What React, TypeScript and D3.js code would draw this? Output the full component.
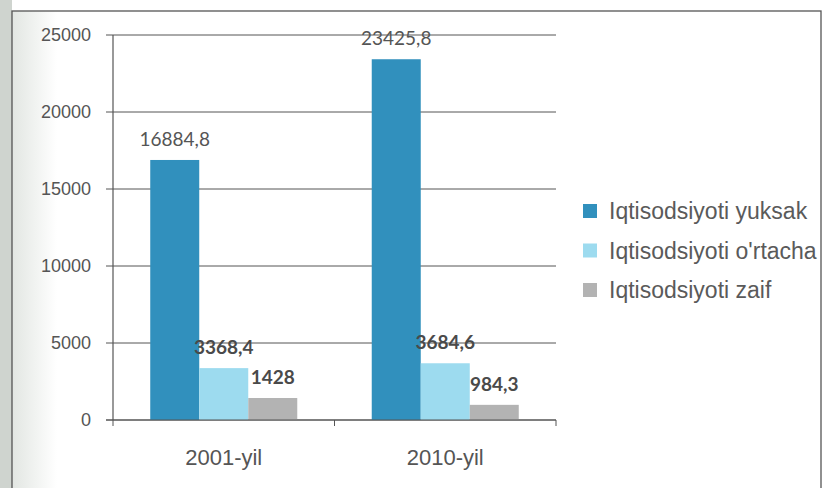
import React from "react";
import * as d3 from "d3";

const categories = ["2001-yil", "2010-yil"];
const seriesNames = ["Iqtisodsiyoti yuksak", "Iqtisodsiyoti o'rtacha", "Iqtisodsiyoti zaif"];
const yuksak = [16884.8, 23425.8];
const ortacha = [3368.4, 3684.6];
const zaif = [1428, 984.3];
const labelsYuksak = ["16884,8", "23425,8"];
const labelsOrtacha = ["3368,4", "3684,6"];
const labelsZaif = ["1428", "984,3"];
const yTicks = [0, 5000, 10000, 15000, 20000, 25000];

const colors = ["#3190bd", "#9ddbef", "#b3b3b3"];

export default function App() {
  const W = 823, H = 488;
  const left = 113, right = 556, top = 35, bottom = 420;
  const x = d3.scaleBand<string>().domain(categories).range([left, right]).paddingInner(0).paddingOuter(0);
  const y = d3.scaleLinear().domain([0, 25000]).range([bottom, top]);
  const inner = d3.scaleBand<number>().domain([0, 1, 2]).range([0, x.bandwidth()]).paddingOuter(0.76).paddingInner(0);
  const series = [yuksak, ortacha, zaif];
  const labels = [labelsYuksak, labelsOrtacha, labelsZaif];
  const lineColor = "#555";
  const xTicks = [left, ...categories.map((c) => (x(c) as number) + x.bandwidth())];

  return (
    <div style={{ position: "fixed", left: 0, top: 0 }}>
      <svg width={W} height={H} style={{ display: "block" }}>
        <defs>
          <linearGradient id="scan" x1="0" x2="1" y1="0" y2="0">
            <stop offset="0" stopColor="#e2e6e2" />
            <stop offset="1" stopColor="#ffffff" />
          </linearGradient>
        </defs>
        <rect x={0} y={0} width={W} height={H} fill="#ffffff" />
        <rect x={0} y={0} width={12} height={H} fill="#cfd4cf" />
        <rect x={12} y={11} width={45} height={H - 11} fill="url(#scan)" />
        <rect x={12} y={11} width={809} height={H} fill="none" stroke="#555" strokeWidth={1.3} />

        {/* gridlines and y ticks */}
        {yTicks.map((t) => (
          <g key={t}>
            <line x1={left - 7} x2={right} y1={y(t)} y2={y(t)} stroke={lineColor} strokeWidth={1} />
            <text x={91} y={y(t)} dy="0.35em" textAnchor="end" fontFamily="Liberation Sans, Arial, sans-serif" fontSize={18} fill="#555">
              {t}
            </text>
          </g>
        ))}
        <line x1={left} x2={left} y1={top} y2={bottom} stroke={lineColor} strokeWidth={1.2} />
        {xTicks.map((tx, i) => (
          <line key={i} x1={tx} x2={tx} y1={bottom} y2={bottom + 6} stroke={lineColor} strokeWidth={1} />
        ))}

        {/* bars */}
        {categories.map((c, ci) => (
          <g key={c}>
            {series.map((s, si) => {
              const bx = (x(c) as number) + (inner(si) as number);
              const bw = inner.bandwidth();
              return (
                <rect key={si} x={bx} y={y(s[ci])} width={bw} height={bottom - y(s[ci])} fill={colors[si]} />
              );
            })}
          </g>
        ))}
        {/* axis baseline over bars */}
        <line x1={left - 7} x2={right} y1={bottom} y2={bottom} stroke={lineColor} strokeWidth={1.2} />

        {/* data labels */}
        {categories.map((c, ci) => (
          <g key={c + "l"}>
            {series.map((s, si) => {
              const cx = (x(c) as number) + (inner(si) as number) + inner.bandwidth() / 2;
              return (
                <text
                  key={si}
                  x={cx}
                  y={y(s[ci]) - 14}
                  textAnchor="middle"
                  fontFamily="Lato, Open Sans, sans-serif"
                  fontSize={19}
                  fontWeight={si === 0 ? 400 : 700}
                  fill={si === 0 ? "#555" : "#4a4a4a"}
                >
                  {labels[si][ci]}
                </text>
              );
            })}
          </g>
        ))}

        {/* category labels */}
        {categories.map((c) => (
          <text key={c} x={(x(c) as number) + x.bandwidth() / 2} y={465} textAnchor="middle" fontFamily="Liberation Sans, Arial, sans-serif" fontSize={22} fill="#555">
            {c}
          </text>
        ))}

        {/* legend */}
        {seriesNames.map((n, i) => (
          <g key={n} transform={`translate(583, ${211 + i * 39.5})`}>
            <rect x={0} y={-7} width={14} height={14} fill={colors[i]} />
            <text x={26} y={0} dy="0.35em" fontFamily="Liberation Sans, Arial, sans-serif" fontSize={23} fill="#5a5a5a">
              {n}
            </text>
          </g>
        ))}
      </svg>
    </div>
  );
}
